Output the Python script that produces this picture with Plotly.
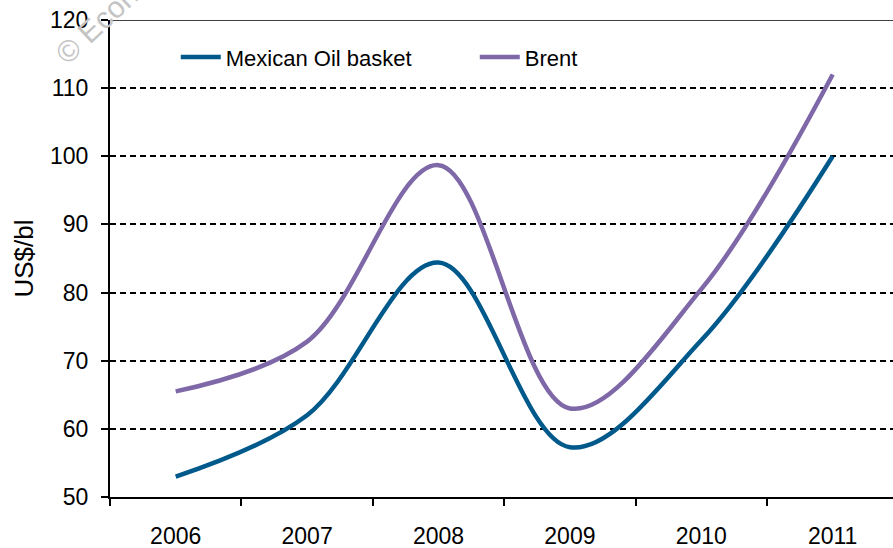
import plotly.graph_objects as go

years = ["2006", "2007", "2008", "2009", "2010", "2011"]
mexican = [53.0, 62.0, 84.4, 57.3, 73.0, 100.0]
brent = [65.5, 72.8, 98.7, 63.0, 80.5, 112.0]
y_ticks = [50, 60, 70, 80, 90, 100, 110, 120]

FONT = "Liberation Sans, Arial, sans-serif"

fig = go.Figure()
fig.add_trace(go.Scatter(
    x=years, y=mexican, name="Mexican Oil basket", mode="lines",
    line=dict(color="#00598B", width=4.5, shape="spline", smoothing=1.0),
))
fig.add_trace(go.Scatter(
    x=years, y=brent, name="Brent", mode="lines",
    line=dict(color="#7E68A8", width=4.5, shape="spline", smoothing=1.0),
))

fig.update_layout(
    width=893, height=548,
    margin=dict(l=110, r=0, t=20, b=51),
    paper_bgcolor="white", plot_bgcolor="white",
    font=dict(family=FONT, size=23, color="black"),
    showlegend=True,
    legend=dict(
        orientation="h", x=0.084, y=0.922, xanchor="left", yanchor="middle",
        font=dict(size=22, color="black"),
        entrywidth=244, entrywidthmode="pixels",
        bgcolor="rgba(0,0,0,0)", itemwidth=40,
    ),
    xaxis=dict(
        type="category", range=[-0.5, 5.459], automargin=False,
        tickson="boundaries", ticks="outside", ticklen=7, tickwidth=2, tickcolor="black",
        showline=True, linewidth=2, linecolor="black",
        showgrid=False, zeroline=False, ticklabelstandoff=17,
        tickfont=dict(size=23),
    ),
    yaxis=dict(
        range=[50, 120], tickvals=y_ticks, automargin=False,
        ticks="outside", ticklen=7, tickwidth=2, tickcolor="black",
        showline=True, linewidth=2, linecolor="black",
        showgrid=True, gridcolor="black", gridwidth=1.5, griddash="6px,4px",
        zeroline=False, ticklabelstandoff=8,
        title=dict(text="US$/bl", font=dict(size=26), standoff=9),
        tickfont=dict(size=23),
    ),
    shapes=[dict(type="line", xref="paper", yref="y", x0=0, x1=1, y0=120, y1=120,
                 line=dict(color="black", width=1.5))],
    annotations=[dict(
        text="© Economist", xref="paper", yref="paper", x=0.0166, y=1.044,
        showarrow=False, textangle=-43, font=dict(size=30, color="#c4c4c4", family=FONT),
        xanchor="center", yanchor="middle",
    )],
)

fig.write_html("out.html")
